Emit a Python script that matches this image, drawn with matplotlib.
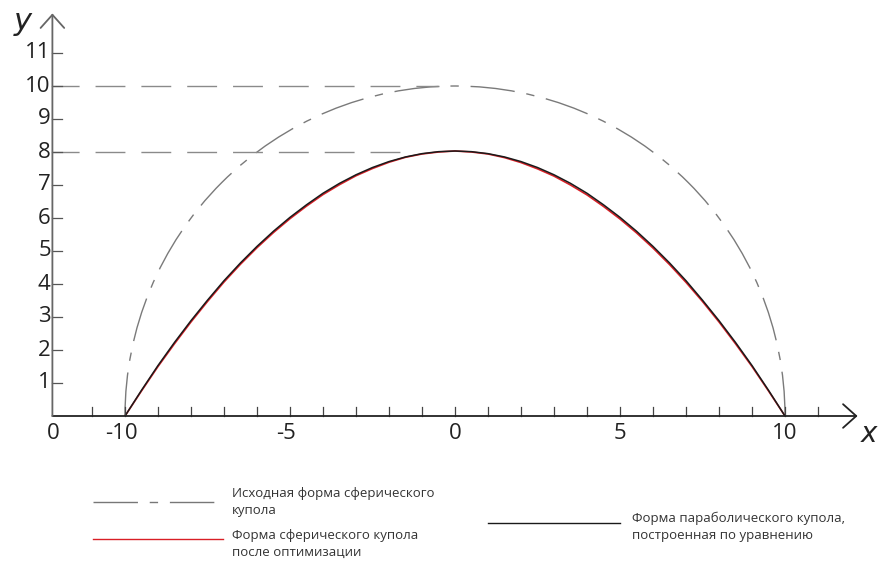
import matplotlib.pyplot as plt
from matplotlib.patches import Arc
from matplotlib.lines import Line2D

# dome profiles, span -10..10, sampled every half unit
x_vals = [-10, -9.5, -9, -8.5, -8, -7.5, -7, -6.5, -6, -5.5, -5, -4.5, -4, -3.5, -3, -2.5, -2, -1.5, -1, -0.5,
          0, 0.5, 1, 1.5, 2, 2.5, 3, 3.5, 4, 4.5, 5, 5.5, 6, 6.5, 7, 7.5, 8, 8.5, 9, 9.5, 10]
parabolic_y = [0, 0.78, 1.53, 2.23, 2.89, 3.51, 4.10, 4.64, 5.14, 5.60, 6.02, 6.40, 6.75, 7.05, 7.31, 7.53,
               7.71, 7.85, 7.95, 8.01, 8.03, 8.01, 7.95, 7.85, 7.71, 7.53, 7.31, 7.05, 6.75, 6.40, 6.02,
               5.60, 5.14, 4.64, 4.10, 3.51, 2.89, 2.23, 1.53, 0.78, 0]
optimized_y = [0, 0.76, 1.50, 2.19, 2.85, 3.47, 4.06, 4.60, 5.10, 5.56, 5.98, 6.36, 6.71, 7.01, 7.28, 7.50,
               7.69, 7.84, 7.94, 8.00, 8.03, 8.00, 7.94, 7.83, 7.68, 7.49, 7.27, 7.00, 6.70, 6.35, 5.97,
               5.55, 5.09, 4.59, 4.05, 3.47, 2.85, 2.19, 1.50, 0.76, 0]
# initial spherical dome
sphere_radius = 10
# horizontal guide levels and where the guides stop
guide_levels = [10, 8]
guide_ends = [-0.5, -1.45]

x_ticks = list(range(-11, 12))
x_tick_labels = {-10: '-10', -5: '-5', 0: '0', 5: '5', 10: '10'}
y_ticks = list(range(1, 12))

legend_texts = ['Исходная форма сферического\nкупола',
                'Форма сферического купола\nпосле оптимизации',
                'Форма параболического купола,\nпостроенная по уравнению']

W, H = 883, 561
UNIT = 33.0      # pixels per unit
X0_PX, Y0_PX = 455, 416
AX_ORIGIN = -12.2

plt.rcParams['font.family'] = ['Open Sans', 'DejaVu Sans']

fig = plt.figure(figsize=(W / 100, H / 100), dpi=100)
ax = fig.add_axes([0, 0, 1, 1])
ax.set_xlim(-X0_PX / UNIT, (W - X0_PX) / UNIT)
ax.set_ylim((Y0_PX - H) / UNIT, Y0_PX / UNIT)
ax.axis('off')

dash_dot = (0, (32, 8.5, 6, 8.5))
guide_dash = (2, (21.5, 11.5))

# guide lines at the dome heights
for level, end in zip(guide_levels, guide_ends):
    ax.plot([AX_ORIGIN, end], [level, level], color='#8a8a8a', lw=1.0, linestyle=guide_dash)

# initial spherical dome
ax.add_patch(Arc((0, 0), 2 * sphere_radius, 2 * sphere_radius, theta1=0, theta2=180,
                 color='#7a7a7a', lw=1.0, linestyle=dash_dot))

# optimized and parabolic domes
ax.plot(x_vals, optimized_y, color='#d91f26', lw=1.2, solid_capstyle='butt')
ax.plot(x_vals, parabolic_y, color='#1a1a1a', lw=1.1, solid_capstyle='butt')

# axes with open arrow heads
arrow = dict(arrowstyle='->,head_length=0.95,head_width=0.85', lw=1.3, shrinkA=0, shrinkB=0)
ax.annotate('', xy=(12.2, 0), xytext=(AX_ORIGIN, 0), arrowprops=dict(arrow, color='#222222'))
ax.annotate('', xy=(AX_ORIGIN, 12.2), xytext=(AX_ORIGIN, 0), arrowprops=dict(arrow, color='#666666'))

tick_len = 0.28
for t in x_ticks:
    ax.plot([t, t], [0, tick_len], color='#444444', lw=0.9)
for t in y_ticks:
    ax.plot([AX_ORIGIN, AX_ORIGIN + tick_len], [t, t], color='#555555', lw=0.9)

for t, lab in x_tick_labels.items():
    ax.text(t - (0.12 if t < 0 else 0), -0.52, lab, fontsize=16, ha='center', va='center', color='#222222')
ax.text(AX_ORIGIN + 0.02, -0.52, '0', fontsize=16, ha='center', va='center', color='#222222')
for t in y_ticks:
    ax.text(AX_ORIGIN - 0.05, t, str(t), fontsize=16, ha='right', va='center', color='#222222')

ax.text(-13.1, 11.95, 'y', fontsize=22, style='italic', family='DejaVu Sans',
        ha='center', va='center', color='#222222')
ax.text(12.55, -0.55, 'x', fontsize=20, style='italic', family='DejaVu Sans',
        ha='center', va='center', color='#222222')


# legend below the plot, placed in pixel coordinates
def fx(px):
    return px / W


def fy(py):
    return 1 - py / H


legend_lines = [
    dict(x=(93, 223), y=502, color='#777777', ls=dash_dot, lw=1.0),
    dict(x=(93, 223), y=539, color='#d91f26', ls='-', lw=1.0),
    dict(x=(488, 620), y=523, color='#1a1a1a', ls='-', lw=1.0),
]
legend_text_pos = [(232, 502), (232, 544), (632, 527)]

for line, text, (tx, ty) in zip(legend_lines, legend_texts, legend_text_pos):
    fig.add_artist(Line2D([fx(line['x'][0]), fx(line['x'][1])], [fy(line['y']), fy(line['y'])],
                          transform=fig.transFigure, color=line['color'],
                          linestyle=line['ls'], lw=line['lw']))
    fig.text(fx(tx), fy(ty), text, fontsize=9.5, ha='left', va='center',
             color='#333333', linespacing=1.45)

fig.savefig('out.png', dpi=100)
